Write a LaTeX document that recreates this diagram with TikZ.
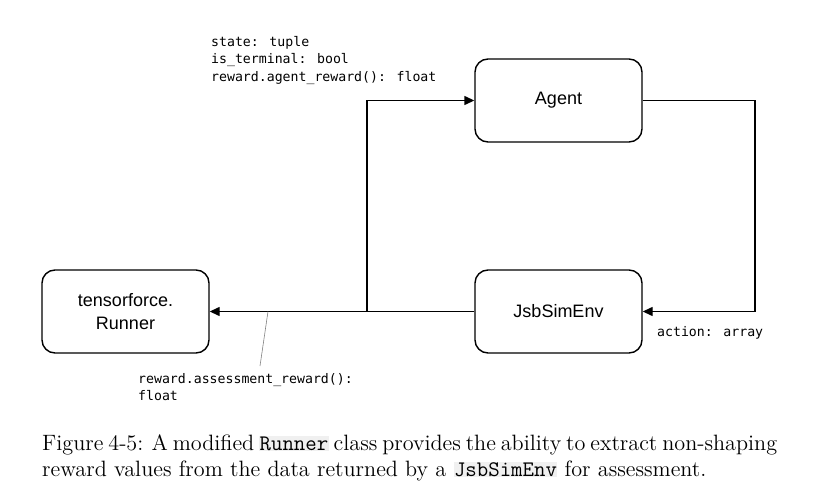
\documentclass[tikz,border=0pt]{standalone}
\usepackage{fontspec}
\usetikzlibrary{arrows.meta}
\newfontfamily\arialf{Liberation Sans}
\newfontfamily\consf{DejaVu Sans Mono}
\newfontfamily\capf[Extension=.otf]{lmroman12-regular}
\newfontfamily\captt[Extension=.otf]{lmmono12-regular}
\definecolor{codebg}{gray}{0.94}
\newcommand{\hlcode}[1]{{\setlength{\fboxsep}{0.5pt}\colorbox{codebg}{\captt #1}}}
\begin{document}
\begin{tikzpicture}[x=1pt,y=-1pt,
  blk/.style={draw, line width=1.4pt, rounded corners=13pt, minimum width=167pt, minimum height=83pt, inner sep=0pt, align=center, font=\arialf\fontsize{18}{23}\selectfont},
  conn/.style={line width=1.4pt},
  arr/.style={conn, -{Triangle[length=10pt,width=9pt]}},
  code/.style={font=\consf\fontsize{13.2}{17.5}\selectfont, align=left, inner sep=0pt, anchor=north west},
]
\useasboundingbox (0,0) rectangle (833,495);
\node[blk] (agent) at (558.5,100.5) {Agent};
\node[blk] (env) at (558.5,311.5) {JsbSimEnv};
\node[blk] (runner) at (125.5,311.5) {tensorforce.\\Runner};

\coordinate (rc) at (755,0);
\coordinate (br) at (367,311.5);
\draw[arr] (agent.east) -| (rc |- env.east) -- (env.east);
\draw[arr] (env.west) -- (runner.east);
\draw[arr] (br) |- (agent.west);

\coordinate (lp) at (268,311.5);
\coordinate (lq) at (260,366);
\draw[gray, line width=0.6pt] (lp) -- (lq);

\node[code] (t1) at (211,36) {state: tuple\\is\_terminal: bool\\reward.agent\_reward(): float};
\node[code] (t2) at (657,326) {action: array};
\node[code] (t3) at (138,373) {reward.assessment\_reward():\\float};

\node[anchor=north west, align=left, inner sep=0pt, font=\capf\fontsize{22.2}{26.5}\selectfont] (cap) at (42,434)
 {{\spaceskip=0.3em plus 0.2em minus 0.2em\makebox[735pt][s]{Figure 4-5: A modified \hlcode{Runner} class provides the ability to extract non-shaping}}\\
 reward values from the data returned by a \hlcode{JsbSimEnv} for assessment.};
\end{tikzpicture}
\end{document}
